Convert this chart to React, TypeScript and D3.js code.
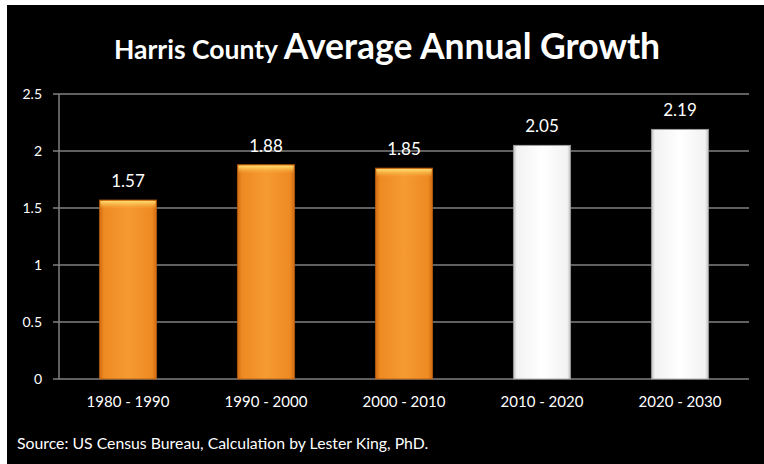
import React from "react";
import * as d3 from "d3";

const categories = ["1980 - 1990", "1990 - 2000", "2000 - 2010", "2010 - 2020", "2020 - 2030"];
const values = [1.57, 1.88, 1.85, 2.05, 2.19];
const projected = [false, false, false, true, true];
const yTicks = [0, 0.5, 1, 1.5, 2, 2.5];

const W = 764;
const H = 464;
const FONT = "Lato, 'Open Sans', sans-serif";

export default function App() {
  const x = d3
    .scaleBand<string>()
    .domain(categories)
    .range([59, 749])
    .paddingInner(0.585)
    .paddingOuter(0.2925);
  const y = d3.scaleLinear().domain([0, 2.5]).range([379, 94]);
  const bw = x.bandwidth();

  return (
    <div style={{ position: "fixed", left: 0, top: 0, margin: 0 }}>
      <svg width={W} height={H} style={{ display: "block" }}>
        <defs>
          <linearGradient id="orangeH" x1="0" x2="1" y1="0" y2="0">
            <stop offset="0" stopColor="#D06A12" />
            <stop offset="0.08" stopColor="#EE8A22" />
            <stop offset="0.5" stopColor="#F69A32" />
            <stop offset="0.92" stopColor="#EE8A22" />
            <stop offset="1" stopColor="#D06A12" />
          </linearGradient>
          <linearGradient id="orangeTop" x1="0" x2="0" y1="0" y2="1">
            <stop offset="0" stopColor="#FFE070" stopOpacity="1" />
            <stop offset="1" stopColor="#FBB040" stopOpacity="0" />
          </linearGradient>
          <linearGradient id="whiteH" x1="0" x2="1" y1="0" y2="0">
            <stop offset="0" stopColor="#BDBDBD" />
            <stop offset="0.06" stopColor="#F2F2F2" />
            <stop offset="0.5" stopColor="#FFFFFF" />
            <stop offset="0.94" stopColor="#F2F2F2" />
            <stop offset="1" stopColor="#BDBDBD" />
          </linearGradient>
        </defs>
        <rect x={0} y={0} width={W} height={H} fill="#ffffff" />
        <rect x={7} y={5} width={W - 7} height={H - 5} fill="#000000" />

        <text x={387} y={59} textAnchor="middle" fill="#ffffff" fontFamily={FONT} fontWeight="bold">
          <tspan fontSize={26.5}>Harris County </tspan>
          <tspan fontSize={35.5}>Average Annual Growth</tspan>
        </text>

        {yTicks.map((t) => (
          <g key={t}>
            <line x1={53} x2={749} y1={y(t)} y2={y(t)} stroke="#808080" strokeWidth={1.5} />
            <text
              x={42}
              y={y(t)}
              dy="0.35em"
              textAnchor="end"
              fill="#ffffff"
              fontFamily={FONT}
              fontSize={14}
            >
              {t}
            </text>
          </g>
        ))}
        <line x1={59} x2={59} y1={y(2.5)} y2={y(0)} stroke="#808080" strokeWidth={1.5} />

        {categories.map((c, i) => {
          const bx = x(c) as number;
          const top = y(values[i]);
          const h = y(0) - top;
          return (
            <g key={c}>
              {projected[i] ? (
                <rect x={bx} y={top} width={bw} height={h} fill="url(#whiteH)" stroke="#9a9a9a" strokeWidth={0.8} />
              ) : (
                <>
                  <rect x={bx} y={top} width={bw} height={h} fill="url(#orangeH)" stroke="#B05A10" strokeWidth={0.8} />
                  <rect x={bx + 1} y={top + 1} width={bw - 2} height={8} fill="url(#orangeTop)" />
                </>
              )}
              <text
                x={bx + bw / 2}
                y={top - 13}
                textAnchor="middle"
                fill="#ffffff"
                fontFamily={FONT}
                fontSize={17}
              >
                {values[i].toFixed(2)}
              </text>
              <text
                x={bx + bw / 2}
                y={407}
                textAnchor="middle"
                fill="#ffffff"
                fontFamily={FONT}
                fontSize={15}
              >
                {c}
              </text>
            </g>
          );
        })}

        <text x={17} y={449} fill="#ffffff" fontFamily={FONT} fontSize={15.8}>
          Source: US Census Bureau, Calculation by Lester King, PhD.
        </text>
      </svg>
    </div>
  );
}
